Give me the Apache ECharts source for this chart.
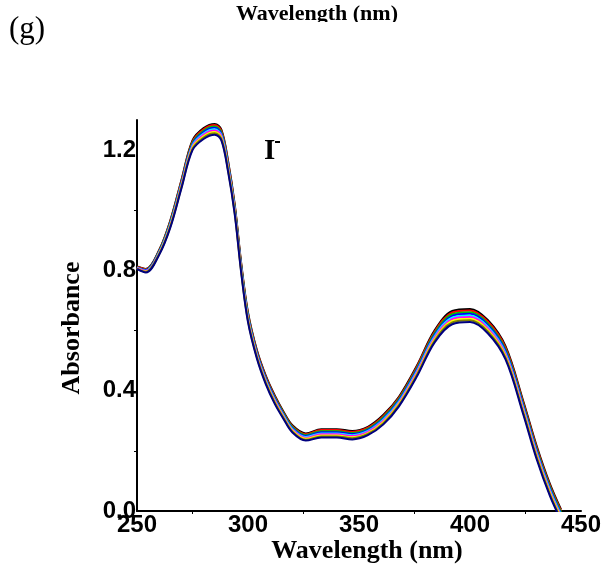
<!DOCTYPE html>
<html><head><meta charset="utf-8">
<script src="https://cdn.jsdelivr.net/npm/echarts@6/dist/echarts.min.js"></script>
<style>html,body{margin:0;padding:0;background:#fff}#c{width:606px;height:570px}</style>
</head><body><div id="c"></div>
<script>
// Wavelength sample points (nm)
const wavelength = [250,254,260,265,270,275,280,285,288,291,294,297,300,304,308,312,316,320,326,333,340,347,354,361,368,376,384,392,400,408,416,424,430,436,441];
// Absorbance spectra (top to bottom)
const absBlack   = [.813,.805,.868,.966,1.100,1.232,1.273,1.287,1.268,1.165,1.020,.820,.660,.535,.450,.385,.330,.285,.258,.272,.272,.266,.280,.320,.380,.482,.600,.665,.672,.635,.548,.365,.217,.090,.005];
const absRed     = [.812,.804,.866,.963,1.097,1.228,1.269,1.283,1.264,1.161,1.016,.816,.656,.532,.447,.382,.327,.282,.255,.269,.269,.263,.277,.316,.376,.478,.595,.660,.667,.630,.543,.360,.212,.085,.001];
const absGreen   = [.811,.802,.864,.960,1.093,1.224,1.264,1.278,1.259,1.156,1.012,.812,.652,.528,.443,.378,.324,.279,.252,.265,.265,.259,.273,.312,.372,.473,.590,.654,.661,.624,.537,.354,.206,.080,-.004];
const absBlue    = [.810,.801,.862,.957,1.090,1.220,1.260,1.274,1.255,1.152,1.008,.808,.648,.525,.440,.375,.321,.276,.249,.262,.262,.256,.270,.308,.368,.469,.585,.649,.656,.619,.532,.349,.201,.075,-.009];
const absCyan    = [.809,.799,.860,.954,1.086,1.216,1.255,1.269,1.250,1.147,1.004,.804,.644,.521,.436,.371,.318,.273,.246,.258,.258,.252,.266,.304,.364,.464,.580,.643,.650,.613,.526,.343,.195,.070,-.013];
const absMagenta = [.808,.798,.858,.951,1.083,1.212,1.251,1.265,1.246,1.143,1.000,.800,.640,.518,.433,.368,.315,.270,.243,.255,.255,.249,.263,.300,.360,.460,.575,.638,.645,.608,.521,.338,.190,.065,-.018];
const absYellow  = [.807,.796,.856,.948,1.079,1.208,1.246,1.260,1.241,1.138,.996,.796,.636,.514,.429,.364,.312,.267,.240,.251,.251,.245,.259,.296,.356,.455,.570,.632,.639,.602,.515,.332,.184,.060,-.022];
const absOlive   = [.806,.795,.854,.945,1.076,1.204,1.242,1.256,1.237,1.134,.992,.792,.632,.511,.426,.361,.309,.264,.237,.248,.248,.242,.256,.292,.352,.451,.565,.627,.634,.597,.510,.327,.179,.055,-.027];
const absNavy    = [.805,.793,.852,.942,1.072,1.200,1.237,1.251,1.232,1.129,.988,.788,.628,.507,.422,.357,.306,.261,.234,.244,.244,.238,.252,.288,.348,.446,.560,.621,.628,.591,.504,.321,.173,.050,-.031];

const spectra = [absBlack, absRed, absGreen, absBlue, absCyan, absMagenta, absYellow, absOlive, absNavy];
const seriesNames = ['s1','s2','s3','s4','s5','s6','s7','s8','s9'];
const seriesColors = ['#000000','#ff0000','#00c800','#0000ff','#00ffff','#ff00ff','#ffff00','#808000','#000080'];

const xTickLabels = ['250','300','350','400','450'];
const yTickLabels = ['0.0','0.4','0.8','1.2'];

const chart = echarts.init(document.getElementById('c'), null, {renderer:'canvas'});

const series = spectra.map((arr, i) => ({
  name: seriesNames[i],
  type: 'line',
  data: arr.map((v, j) => [wavelength[j], v]),
  smooth: 0.35,
  symbol: 'none',
  clip: true,
  lineStyle: { color: seriesColors[i], width: 2 },
  itemStyle: { color: seriesColors[i] },
  z: 2
}));

const labelFont = { fontFamily: '"Liberation Sans", Arial, sans-serif', fontWeight: 'bold', fontSize: 24, color: '#000' };

chart.setOption({
  animation: false,
  backgroundColor: '#fff',
  grid: { left: 137, right: 25, top: 120, bottom: 59, containLabel: false },
  xAxis: {
    type: 'value', min: 250, max: 450, interval: 50,
    axisLine: { show: true, onZero: false, lineStyle: { color: '#000', width: 2 } },
    axisTick: { show: false },
    minorTick: { show: true, splitNumber: 2, length: 3, lineStyle: { color: '#000', width: 1 } },
    splitLine: { show: false },
    axisLabel: Object.assign({ margin: 2, formatter: v => xTickLabels[Math.round((v - 250) / 50)] || '' }, labelFont)
  },
  yAxis: {
    type: 'value', min: 0, max: 1.3, interval: 0.4,
    axisLine: { show: true, onZero: false, lineStyle: { color: '#000', width: 2 } },
    axisTick: { show: false },
    minorTick: { show: true, splitNumber: 2, length: 3, lineStyle: { color: '#000', width: 1 } },
    splitLine: { show: false },
    axisLabel: Object.assign({ margin: 1, showMaxLabel: false, formatter: v => {
      const k = Math.round(v / 0.4);
      return Math.abs(v - k * 0.4) < 1e-6 ? (yTickLabels[k] || '') : '';
    } }, labelFont)
  },
  series: series,
  graphic: [
    { type: 'text', x: 317, y: 3, z: 100, style: { text: 'Wavelength (nm)', fontFamily: '"Liberation Serif", "Times New Roman", serif', fontWeight: 'bold', fontSize: 22, fill: '#000', textAlign: 'center', textVerticalAlign: 'top' } },
    { type: 'rect', z: 101, shape: { x: 180, y: 22, width: 280, height: 30 }, style: { fill: '#fff' } },
    { type: 'text', x: 9, y: 14, z: 100, style: { text: '(g)', fontFamily: '"Liberation Serif", "Times New Roman", serif', fontSize: 31, fill: '#000', textAlign: 'left', textVerticalAlign: 'top' } },
    { type: 'text', x: 264, y: 137, z: 100, style: { text: 'I', fontFamily: '"Liberation Serif", "Times New Roman", serif', fontWeight: 'bold', fontSize: 29, fill: '#000', textAlign: 'left', textVerticalAlign: 'top' } },
    { type: 'rect', z: 100, shape: { x: 275, y: 141, width: 5, height: 2 }, style: { fill: '#000' } },
    { type: 'text', x: 367, y: 538, z: 100, style: { text: 'Wavelength (nm)', fontFamily: '"Liberation Serif", "Times New Roman", serif', fontWeight: 'bold', fontSize: 26, fill: '#000', textAlign: 'center', textVerticalAlign: 'top' } },
    { type: 'text', x: 72, y: 328, rotation: Math.PI / 2, z: 100, style: { text: 'Absorbance', fontFamily: '"Liberation Serif", "Times New Roman", serif', fontWeight: 'bold', fontSize: 26, fill: '#000', textAlign: 'center', textVerticalAlign: 'middle' } }
  ]
});
</script>
</body></html>
